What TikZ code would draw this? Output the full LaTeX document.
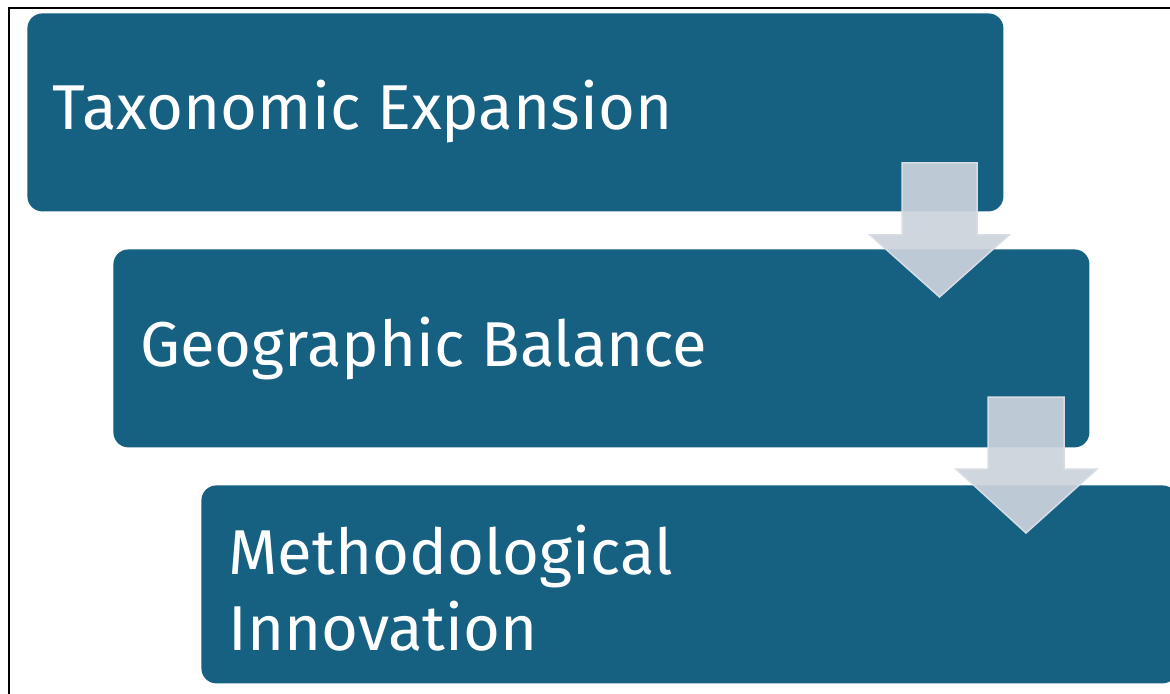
\documentclass[tikz,border=0pt]{standalone}
\usepackage{fontspec}
\setmainfont{Fira Sans}
\usetikzlibrary{positioning}

\definecolor{stageblue}{RGB}{22,96,130}
\definecolor{arrowgrey}{RGB}{204,211,219}
\definecolor{arrowedge}{RGB}{216,221,228}

\begin{document}
\begin{tikzpicture}[x=0.5pt,y=-0.5pt]
  \tikzset{stagebox/.style={rectangle,rounded corners=7.5pt,fill=stageblue,draw=none,
      minimum width=488pt,minimum height=99pt,anchor=north west,inner sep=0pt}}
  \tikzset{stagetext/.style={text=white,anchor=base west,inner sep=0pt,align=left,
      font=\fontsize{31.7}{38}\selectfont}}
  \tikzset{flowarrow/.style={fill=arrowgrey,fill opacity=0.92,draw=arrowedge,line width=0.75pt,line join=miter}}

  \useasboundingbox (0,0) rectangle (1170,694);

  % frame
  \draw[line width=1pt] (8.5,694) -- (8.5,8.5) -- (1170,8.5);

  % stages
  \node[stagebox] (box1) at (27,13) {};
  \node[stagebox] (box2) at (113,249) {};
  \node[stagebox] (box3) at (201,485) {};

  \node[stagetext] (txt1) at (52,130) {Taxonomic Expansion};
  \node[stagetext] (txt2) at (140,367) {Geographic Balance};
  % base of a two-line node is its last line
  \node[stagetext] (txt3) at (228,650) {Methodological\\Innovation};

  % down arrows between the stages
  \draw[flowarrow] (902,163) -- (977,163) -- (977,235) -- (1009,235) -- (939.5,297)
    -- (870,235) -- (902,235) -- cycle;
  \draw[flowarrow] (988,397) -- (1064,397) -- (1064,469) -- (1097,469) -- (1026,533)
    -- (956,469) -- (988,469) -- cycle;
\end{tikzpicture}
\end{document}
